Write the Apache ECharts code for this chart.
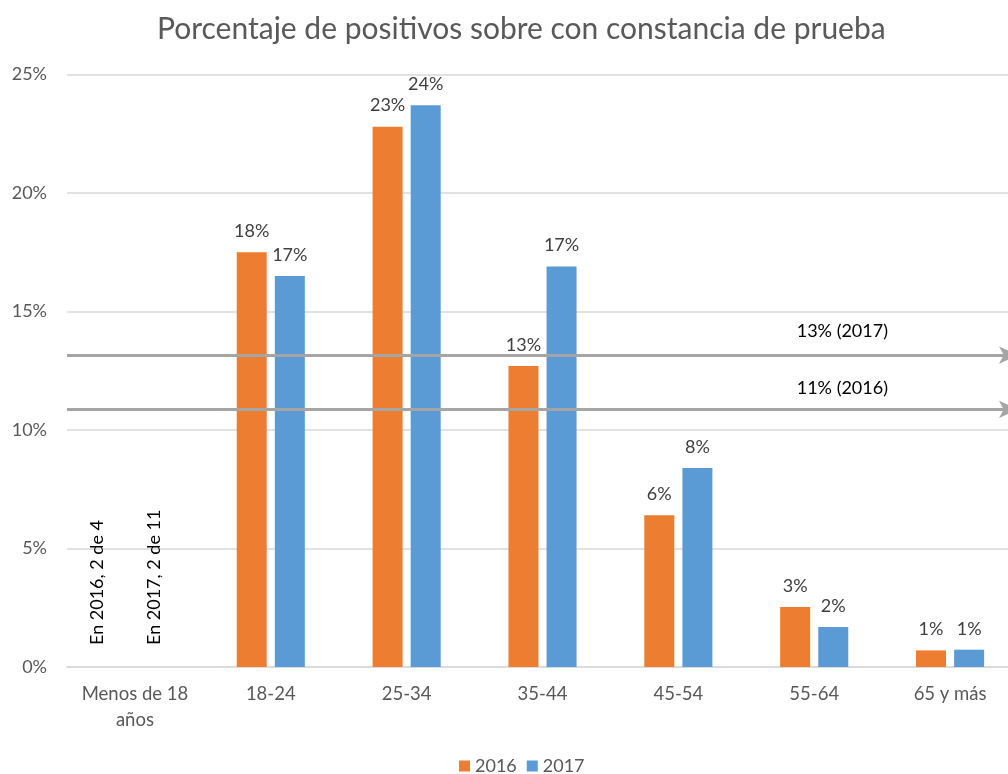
<!DOCTYPE html>
<html>
<head>
<meta charset="utf-8">
<script src="https://cdn.jsdelivr.net/npm/echarts@6/dist/echarts.min.js"></script>
<style>html,body{margin:0;padding:0;background:#fff}#c{width:1008px;height:774px}</style>
</head>
<body>
<div id="c"></div>
<script>
const categories = ['Menos de 18\naños', '18-24', '25-34', '35-44', '45-54', '55-64', '65 y más'];
const seriesNames = ['2016', '2017'];
const values2016 = [0, 17.5, 22.8, 12.7, 6.4, 2.53, 0.70];
const values2017 = [0, 16.5, 23.7, 16.9, 8.4, 1.69, 0.73];
const noteLabels2016 = ['En 2016, 2 de 4'];
const noteLabels2017 = ['En 2017, 2 de 11'];
const avg2016 = 10.87;
const avg2017 = 13.16;
const avgLabel2016 = '11% (2016)';
const avgLabel2017 = '13% (2017)';
const yTicks = [0, 5, 10, 15, 20, 25];

const FONT = 'Lato';
const colors = ['#ED7D31', '#5B9BD5'];

function buildData(vals, notes, offY) {
  return vals.map((v, i) => {
    if (i < notes.length) {
      return {
        value: v,
        label: {
          show: true, formatter: notes[i], rotate: 90, position: 'insideBottom',
          align: 'left', verticalAlign: 'middle', distance: 22, offset: [0, offY],
          color: '#000', fontSize: 18, fontFamily: FONT
        }
      };
    }
    return v;
  });
}

const chart = echarts.init(document.getElementById('c'));
chart.setOption({
  animation: false,
  color: colors,
  title: {
    text: 'Porcentaje de positivos sobre con constancia de prueba',
    left: 152, top: 9,
    textStyle: { fontFamily: FONT, fontSize: 30, fontWeight: 'normal', color: '#595959' }
  },
  legend: {
    top: 752, left: 454, itemWidth: 11, itemHeight: 11, itemGap: 10,
    icon: 'rect',
    textStyle: { fontFamily: FONT, fontSize: 18, color: '#595959' },
    data: seriesNames
  },
  grid: { left: 67, width: 951, top: 74.5, bottom: 107, containLabel: false, outerBoundsMode: 'none' },
  xAxis: {
    type: 'category', data: categories,
    axisLine: { show: true, lineStyle: { color: '#D9D9D9', width: 1.5 } },
    axisTick: { show: false },
    axisLabel: { fontFamily: FONT, fontSize: 18.5, color: '#595959', margin: 14, lineHeight: 26, interval: 0 }
  },
  yAxis: {
    type: 'value', min: 0, max: 25, interval: 5,
    axisLine: { show: false }, axisTick: { show: false },
    splitLine: { lineStyle: { color: '#D9D9D9', width: 1.5 } },
    axisLabel: { fontFamily: FONT, fontSize: 18, color: '#595959', margin: 20,
      formatter: v => (yTicks.includes(v) ? v + '%' : '') }
  },
  series: [
    {
      name: seriesNames[0], type: 'bar', barWidth: 30, barGap: '27%',
      data: buildData(values2016, noteLabels2016, -19),
      label: { show: true, position: 'top', distance: 12, fontFamily: FONT, fontSize: 18, color: '#404040',
        formatter: p => Math.round(p.value) + '%' },
      markLine: {
        silent: true, symbol: ['none', 'arrow'], symbolSize: [13, 19],
        lineStyle: { color: '#A5A5A5', width: 3, type: 'solid' },
        label: { show: true, position: 'insideEndTop', formatter: p => p.name, fontFamily: FONT, fontSize: 18, color: '#000', offset: [-125, -7] },
        data: [
          { name: avgLabel2016, yAxis: avg2016 },
          { name: avgLabel2017, yAxis: avg2017, label: { offset: [-125, -10] } }
        ]
      }
    },
    {
      name: seriesNames[1], type: 'bar', barWidth: 30,
      data: buildData(values2017, noteLabels2017, 0),
      label: { show: true, position: 'top', distance: 12, fontFamily: FONT, fontSize: 18, color: '#404040',
        formatter: p => Math.round(p.value) + '%' }
    }
  ]
});
</script>
</body>
</html>
